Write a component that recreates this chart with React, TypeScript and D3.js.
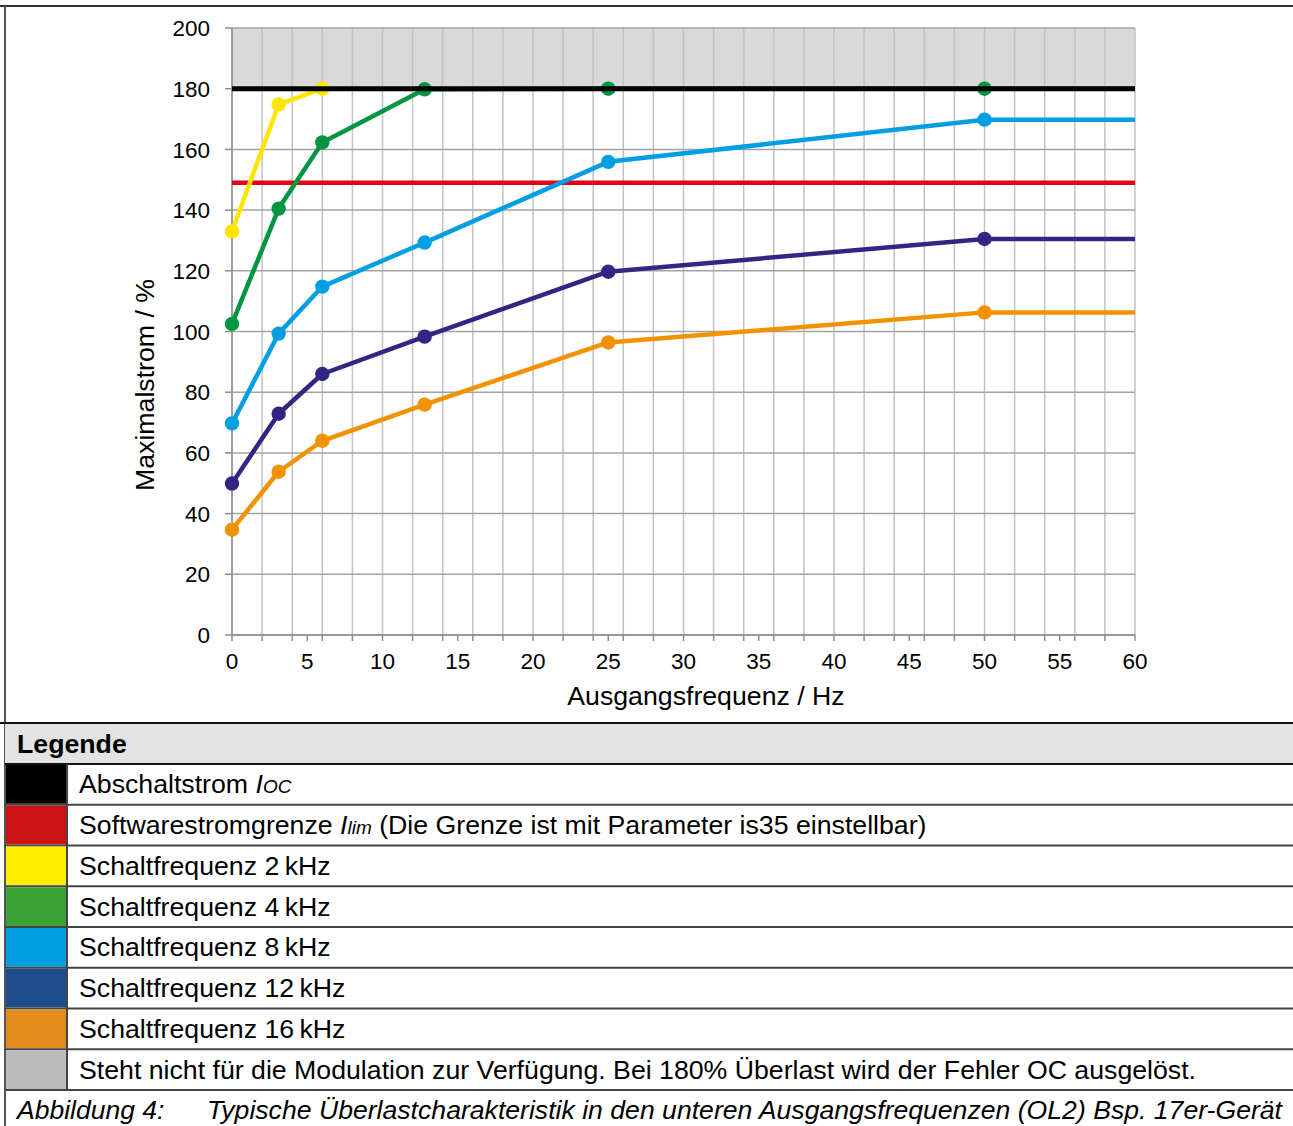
import React from "react";
import * as d3 from "d3";

const freqX = [0, 3.1, 6, 12.8, 25, 50, 60];
const sw2 = [133, 174.8, 180];
const sw4 = [102.5, 140.5, 162.3, 179.8, 180, 180, 180];
const sw8 = [69.7, 99.3, 114.8, 129.3, 155.9, 169.8, 169.8];
const sw12 = [49.9, 72.9, 86, 98.3, 119.7, 130.5, 130.5];
const sw16 = [34.7, 53.8, 64, 75.9, 96.4, 106.3, 106.3];
const limitOC = 180;
const limitSoft = 149;
const xTicks = d3.range(0, 61, 5);
const xGrid = d3.range(0, 61, 2);
const yTicks = d3.range(0, 201, 20);

const seriesList = [
  { name: "16kHz", values: sw16, color: "#f39200" },
  { name: "12kHz", values: sw12, color: "#312783" },
  { name: "8kHz", values: sw8, color: "#009fe3" },
  { name: "4kHz", values: sw4, color: "#009540" },
  { name: "2kHz", values: sw2, color: "#ffe500" },
];

const legendColors = ["#000000", "#cc1417", "#ffed00", "#3ba235", "#009ee0", "#1e4d8c", "#e38b1b", "#bcbcbc"];
const legendPlain = [
  "Schaltfrequenz 2\u2009kHz",
  "Schaltfrequenz 4\u2009kHz",
  "Schaltfrequenz 8\u2009kHz",
  "Schaltfrequenz 12\u2009kHz",
  "Schaltfrequenz 16\u2009kHz",
  "Steht nicht für die Modulation zur Verfügung. Bei 180% Überlast wird der Fehler OC ausgelöst.",
];

const W = 1293;
const H = 1126;
const FONT = "'Liberation Sans', Arial, sans-serif";
const FS = 26.7;

export default function App() {
  const x = d3.scaleLinear().domain([0, 60]).range([232, 1135]);
  const y = d3.scaleLinear().domain([0, 200]).range([635, 28]);
  const line = d3
    .line<number>()
    .x((_, i) => x(freqX[i]))
    .y((d) => y(d));

  const rowTop = 764;
  const rowH = 40.75;
  const rows = 8;

  const legendRows = [0, 1, 2, 3, 4, 5, 6, 7];

  return (
    <svg width={W} height={H} style={{ position: "absolute", left: 0, top: 0, background: "#fff" }} fontFamily={FONT}>
      {/* frame */}
      <line x1={0} x2={W} y1={6} y2={6} stroke="#333" strokeWidth={2} />
      <line x1={5} x2={5} y1={6} y2={H} stroke="#555" strokeWidth={2} />

      {/* grey band */}
      <rect x={x(0)} y={y(200)} width={x(60) - x(0)} height={y(limitOC) - y(200)} fill="#d9d9d9" />

      {/* vertical grid */}
      {xGrid.map((v) => (
        <line key={"vg" + v} x1={x(v)} x2={x(v)} y1={y(200)} y2={y(0)} stroke="#c2c2c2" strokeWidth={1.5} />
      ))}
      {/* horizontal grid */}
      {yTicks.map((v) => (
        <line key={"hg" + v} x1={x(0)} x2={x(60)} y1={y(v)} y2={y(v)} stroke="#a3a3a3" strokeWidth={1.5} />
      ))}
      {/* axes */}
      <line x1={x(0)} x2={x(0)} y1={y(200)} y2={y(0)} stroke="#8c8c8c" strokeWidth={1.5} />
      <line x1={x(0)} x2={x(60)} y1={y(0)} y2={y(0)} stroke="#8c8c8c" strokeWidth={1.5} />
      {yTicks.map((v) => (
        <g key={"yt" + v}>
          <line x1={x(0) - 7} x2={x(0)} y1={y(v)} y2={y(v)} stroke="#8c8c8c" strokeWidth={1.5} />
          <text x={210} y={y(v)} dy="0.36em" textAnchor="end" fontSize={22.5} fill="#000">
            {v}
          </text>
        </g>
      ))}
      {Array.from(new Set([...xGrid, ...xTicks])).map((v) => (
        <line key={"xtm" + v} x1={x(v)} x2={x(v)} y1={y(0)} y2={y(0) + 6} stroke="#8c8c8c" strokeWidth={1.5} />
      ))}
      {xTicks.map((v) => (
        <text key={"xt" + v} x={x(v)} y={669} textAnchor="middle" fontSize={22.5} fill="#000">
          {v}
        </text>
      ))}
      <text x={706} y={705} textAnchor="middle" fontSize={FS} fill="#000">
        Ausgangsfrequenz / Hz
      </text>
      <text
        transform={`translate(154, 385) rotate(-90)`}
        textAnchor="middle"
        fontSize={FS}
        fill="#000"
      >
        Maximalstrom / %
      </text>

      {/* red soft limit */}
      <line x1={x(0)} x2={x(60)} y1={y(limitSoft)} y2={y(limitSoft)} stroke="#e3001b" strokeWidth={4.5} />

      {/* series */}
      {seriesList.map((s) => (
        <g key={s.name}>
          <path d={line(s.values) || ""} fill="none" stroke={s.color} strokeWidth={4.5} strokeLinejoin="round" />
          {s.values.map((v, i) =>
            freqX[i] < 60 ? <circle key={i} cx={x(freqX[i])} cy={y(v)} r={7.2} fill={s.color} /> : null
          )}
        </g>
      ))}

      {/* black OC line */}
      <line x1={x(0)} x2={x(60)} y1={y(limitOC)} y2={y(limitOC)} stroke="#000" strokeWidth={5} />

      {/* legend */}
      <rect x={5} y={723} width={W - 5} height={41} fill="#e3e3e3" />
      <line x1={0} x2={W} y1={723} y2={723} stroke="#111" strokeWidth={2} />
      <line x1={5} x2={W} y1={764} y2={764} stroke="#111" strokeWidth={2} />
      <text x={17} y={753} fontSize={FS} fontWeight="bold" fill="#000">
        Legende
      </text>
      {legendRows.map((i) => {
        const top = rowTop + i * rowH;
        return (
          <g key={"lr" + i}>
            <rect x={6} y={top + 1} width={61} height={rowH - 2} fill={legendColors[i]} />
            <line x1={5} x2={W} y1={top + rowH} y2={top + rowH} stroke="#444" strokeWidth={2} />
          </g>
        );
      })}
      <line x1={67} x2={67} y1={rowTop} y2={rowTop + rows * rowH} stroke="#444" strokeWidth={2} />
      <text x={79} y={rowTop + 0.5 * rowH + 9} fontSize={FS} fill="#000">
        Abschaltstrom{" "}
        <tspan fontStyle="italic">I</tspan>
        <tspan fontStyle="italic" fontSize={19}>OC</tspan>
      </text>
      <text x={79} y={rowTop + 1.5 * rowH + 9} fontSize={FS} fill="#000">
        Softwarestromgrenze{" "}
        <tspan fontStyle="italic">I</tspan>
        <tspan fontStyle="italic" fontSize={19}>lim</tspan>
        <tspan> (Die Grenze ist mit Parameter is35 einstellbar)</tspan>
      </text>
      {legendPlain.map((t, k) => (
        <text key={"lt" + k} x={79} y={rowTop + (k + 2.5) * rowH + 9} fontSize={FS} fill="#000">
          {t}
        </text>
      ))}
      <text x={17} y={1119} fontSize={26.5} fontStyle="italic" fill="#000">
        Abbildung 4:
      </text>
      <text x={207} y={1119} fontSize={26} fontStyle="italic" fill="#000" textLength={1075} lengthAdjust="spacingAndGlyphs">
        Typische Überlastcharakteristik in den unteren Ausgangsfrequenzen (OL2) Bsp. 17er-Gerät
      </text>
    </svg>
  );
}
